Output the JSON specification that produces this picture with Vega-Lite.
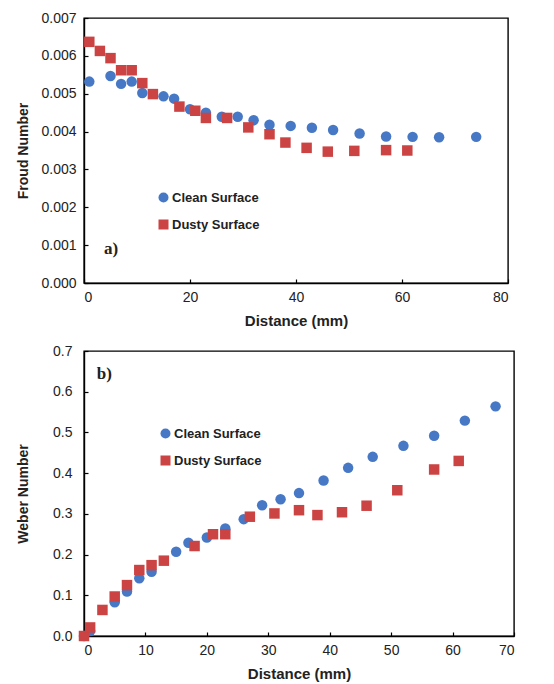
{
  "$schema": "https://vega.github.io/schema/vega-lite/v6.json",
  "padding": {"left": 15, "top": 10, "right": 5, "bottom": 5},
  "background": "white",
  "config": {
    "view": {"stroke": "black", "strokeWidth": 1.4},
    "axis": {
      "grid": false,
      "domainColor": "black",
      "domainWidth": 1.4,
      "tickColor": "black",
      "tickWidth": 1.2,
      "tickSize": -4,
      "labelOverlap": false,
      "labelFont": "Liberation Sans",
      "labelFontSize": 14,
      "labelColor": "#222",
      "titleFont": "Liberation Sans",
      "titleFontWeight": "bold",
      "titleColor": "#222"
    },
    "legend": {
      "labelFont": "Liberation Sans",
      "labelFontSize": 13,
      "labelFontWeight": "bold",
      "labelColor": "#222",
      "padding": 0,
      "labelOffset": 2,
      "rowPadding": 13,
      "symbolStrokeWidth": 0,
      "title": null
    }
  },
  "datasets": {
    "froud": [
      {"d": 1, "v": 0.00532, "s": "Clean Surface"},
      {"d": 5, "v": 0.00547, "s": "Clean Surface"},
      {"d": 7, "v": 0.00526, "s": "Clean Surface"},
      {"d": 9, "v": 0.00532, "s": "Clean Surface"},
      {"d": 11, "v": 0.00502, "s": "Clean Surface"},
      {"d": 15, "v": 0.00493, "s": "Clean Surface"},
      {"d": 17, "v": 0.00487, "s": "Clean Surface"},
      {"d": 20, "v": 0.00459, "s": "Clean Surface"},
      {"d": 23, "v": 0.0045, "s": "Clean Surface"},
      {"d": 26, "v": 0.00439, "s": "Clean Surface"},
      {"d": 29, "v": 0.00439, "s": "Clean Surface"},
      {"d": 32, "v": 0.0043, "s": "Clean Surface"},
      {"d": 35, "v": 0.00418, "s": "Clean Surface"},
      {"d": 39, "v": 0.00415, "s": "Clean Surface"},
      {"d": 43, "v": 0.0041, "s": "Clean Surface"},
      {"d": 47, "v": 0.00404, "s": "Clean Surface"},
      {"d": 52, "v": 0.00395, "s": "Clean Surface"},
      {"d": 57, "v": 0.00387, "s": "Clean Surface"},
      {"d": 62, "v": 0.00386, "s": "Clean Surface"},
      {"d": 67, "v": 0.00385, "s": "Clean Surface"},
      {"d": 74, "v": 0.00386, "s": "Clean Surface"},
      {"d": 1, "v": 0.00637, "s": "Dusty Surface"},
      {"d": 3, "v": 0.00613, "s": "Dusty Surface"},
      {"d": 5, "v": 0.00594, "s": "Dusty Surface"},
      {"d": 7, "v": 0.00562, "s": "Dusty Surface"},
      {"d": 9, "v": 0.00562, "s": "Dusty Surface"},
      {"d": 11, "v": 0.00528, "s": "Dusty Surface"},
      {"d": 13, "v": 0.00499, "s": "Dusty Surface"},
      {"d": 18, "v": 0.00466, "s": "Dusty Surface"},
      {"d": 21, "v": 0.00455, "s": "Dusty Surface"},
      {"d": 23, "v": 0.00436, "s": "Dusty Surface"},
      {"d": 27, "v": 0.00436, "s": "Dusty Surface"},
      {"d": 31, "v": 0.00411, "s": "Dusty Surface"},
      {"d": 35, "v": 0.00393, "s": "Dusty Surface"},
      {"d": 38, "v": 0.00371, "s": "Dusty Surface"},
      {"d": 42, "v": 0.00357, "s": "Dusty Surface"},
      {"d": 46, "v": 0.00347, "s": "Dusty Surface"},
      {"d": 51, "v": 0.00349, "s": "Dusty Surface"},
      {"d": 57, "v": 0.00351, "s": "Dusty Surface"},
      {"d": 61, "v": 0.0035, "s": "Dusty Surface"}
    ],
    "weber": [
      {"d": 0, "v": 0.0, "s": "Clean Surface"},
      {"d": 1, "v": 0.012, "s": "Clean Surface"},
      {"d": 5, "v": 0.083, "s": "Clean Surface"},
      {"d": 7, "v": 0.109, "s": "Clean Surface"},
      {"d": 9, "v": 0.142, "s": "Clean Surface"},
      {"d": 11, "v": 0.158, "s": "Clean Surface"},
      {"d": 15, "v": 0.207, "s": "Clean Surface"},
      {"d": 17, "v": 0.229, "s": "Clean Surface"},
      {"d": 20, "v": 0.242, "s": "Clean Surface"},
      {"d": 23, "v": 0.264, "s": "Clean Surface"},
      {"d": 26, "v": 0.287, "s": "Clean Surface"},
      {"d": 29, "v": 0.321, "s": "Clean Surface"},
      {"d": 32, "v": 0.336, "s": "Clean Surface"},
      {"d": 35, "v": 0.351, "s": "Clean Surface"},
      {"d": 39, "v": 0.382, "s": "Clean Surface"},
      {"d": 43, "v": 0.413, "s": "Clean Surface"},
      {"d": 47, "v": 0.44, "s": "Clean Surface"},
      {"d": 52, "v": 0.467, "s": "Clean Surface"},
      {"d": 57, "v": 0.492, "s": "Clean Surface"},
      {"d": 62, "v": 0.529, "s": "Clean Surface"},
      {"d": 67, "v": 0.564, "s": "Clean Surface"},
      {"d": 0, "v": 0.0, "s": "Dusty Surface"},
      {"d": 1, "v": 0.021, "s": "Dusty Surface"},
      {"d": 3, "v": 0.064, "s": "Dusty Surface"},
      {"d": 5, "v": 0.097, "s": "Dusty Surface"},
      {"d": 7, "v": 0.125, "s": "Dusty Surface"},
      {"d": 9, "v": 0.162, "s": "Dusty Surface"},
      {"d": 11, "v": 0.174, "s": "Dusty Surface"},
      {"d": 13, "v": 0.185, "s": "Dusty Surface"},
      {"d": 18, "v": 0.221, "s": "Dusty Surface"},
      {"d": 21, "v": 0.25, "s": "Dusty Surface"},
      {"d": 23, "v": 0.25, "s": "Dusty Surface"},
      {"d": 27, "v": 0.293, "s": "Dusty Surface"},
      {"d": 31, "v": 0.301, "s": "Dusty Surface"},
      {"d": 35, "v": 0.309, "s": "Dusty Surface"},
      {"d": 38, "v": 0.297, "s": "Dusty Surface"},
      {"d": 42, "v": 0.304, "s": "Dusty Surface"},
      {"d": 46, "v": 0.32, "s": "Dusty Surface"},
      {"d": 51, "v": 0.358, "s": "Dusty Surface"},
      {"d": 57, "v": 0.409, "s": "Dusty Surface"},
      {"d": 61, "v": 0.43, "s": "Dusty Surface"}
    ]
  },
  "vconcat": [
    {
      "width": 424,
      "height": 265,
      "layer": [
        {
          "data": {"name": "froud"},
          "mark": {"type": "point", "filled": true, "opacity": 1},
          "encoding": {
            "x": {"field": "d", "type": "quantitative",
                  "scale": {"domain": [0, 80], "nice": false},
                  "axis": {"values": [0, 20, 40, 60, 80], "tickCount": 12, "labelOverlap": false, "title": "Distance (mm)", "titleFontSize": 15, "labelPadding": 11, "titlePadding": 9}},
            "y": {"field": "v", "type": "quantitative",
                  "scale": {"domain": [0, 0.007], "nice": false},
                  "axis": {"values": [0, 0.001, 0.002, 0.003, 0.004, 0.005, 0.006, 0.007], "tickCount": 12, "labelOverlap": false, "format": ".3f", "title": "Froud Number", "titleFontSize": 14, "labelPadding": 12, "titlePadding": 10}},
            "color": {"field": "s", "type": "nominal",
                      "scale": {"domain": ["Clean Surface", "Dusty Surface"], "range": ["#4678C6", "#CB4342"]},
                      "legend": {"orient": "none", "legendX": 73, "legendY": 173}},
            "shape": {"field": "s", "type": "nominal",
                      "scale": {"domain": ["Clean Surface", "Dusty Surface"], "range": ["circle", "square"]},
                      "legend": {"orient": "none", "legendX": 73, "legendY": 173}},
            "size": {"value": 110}
          }
        },
        {
          "data": {"values": [{"d": 5.1, "v": 0.0009, "label": "a)"}]},
          "mark": {"type": "text", "font": "Liberation Serif", "fontWeight": "bold", "fontSize": 17, "color": "#222"},
          "encoding": {
            "x": {"field": "d", "type": "quantitative"},
            "y": {"field": "v", "type": "quantitative"},
            "text": {"field": "label"}
          }
        }
      ]
    },
    {
      "width": 430,
      "height": 285,
      "layer": [
        {
          "data": {"name": "weber"},
          "mark": {"type": "point", "filled": true, "opacity": 1},
          "encoding": {
            "x": {"field": "d", "type": "quantitative",
                  "scale": {"domain": [0, 70], "nice": false},
                  "axis": {"values": [0, 10, 20, 30, 40, 50, 60, 70], "tickCount": 12, "labelOverlap": false, "title": "Distance (mm)", "titleFontSize": 15, "labelPadding": 11, "titlePadding": 9}},
            "y": {"field": "v", "type": "quantitative",
                  "scale": {"domain": [0, 0.7], "nice": false},
                  "axis": {"values": [0, 0.1, 0.2, 0.3, 0.4, 0.5, 0.6, 0.7], "tickCount": 12, "labelOverlap": false, "format": ".1f", "title": "Weber Number", "titleFontSize": 14, "labelPadding": 16, "titlePadding": 22}},
            "color": {"field": "s", "type": "nominal",
                      "scale": {"domain": ["Clean Surface", "Dusty Surface"], "range": ["#4678C6", "#CB4342"]},
                      "legend": {"orient": "none", "legendX": 75, "legendY": 76}},
            "shape": {"field": "s", "type": "nominal",
                      "scale": {"domain": ["Clean Surface", "Dusty Surface"], "range": ["circle", "square"]},
                      "legend": {"orient": "none", "legendX": 75, "legendY": 76}},
            "size": {"value": 110}
          }
        },
        {
          "data": {"values": [{"d": 3.3, "v": 0.643, "label": "b)"}]},
          "mark": {"type": "text", "font": "Liberation Serif", "fontWeight": "bold", "fontSize": 17, "color": "#222"},
          "encoding": {
            "x": {"field": "d", "type": "quantitative"},
            "y": {"field": "v", "type": "quantitative"},
            "text": {"field": "label"}
          }
        }
      ]
    }
  ],
  "spacing": 14,
  "resolve": {"scale": {"color": "independent", "shape": "independent"}}
}
